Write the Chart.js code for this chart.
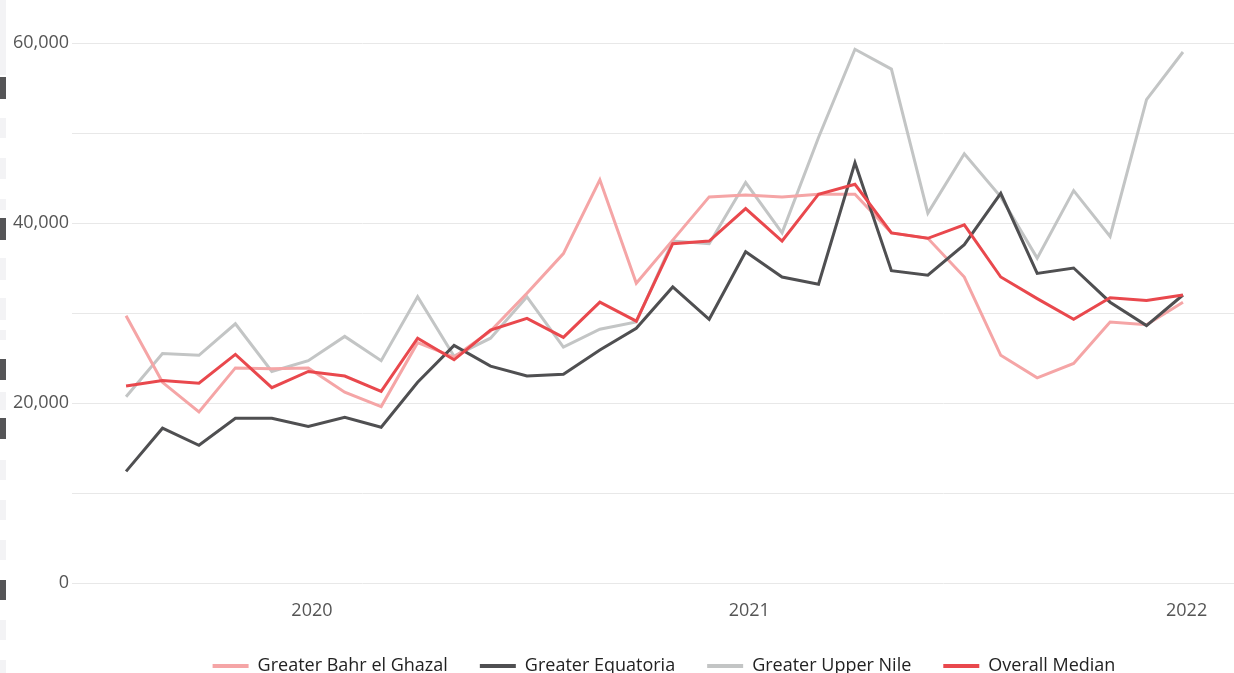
<!DOCTYPE html>
<html>
<head>
<meta charset="utf-8">
<script src="https://cdn.jsdelivr.net/npm/chart.js"></script>
<style>
  html, body { margin: 0; padding: 0; background: #fff; overflow: hidden; }
  #wrap { position: relative; width: 1234px; height: 700px; }
  .strip { position: absolute; left: 0; width: 6px; background: #f3f3f5; }
  .strip.dark { background: #555557; }
</style>
</head>
<body>
<div id="wrap">
  <!-- side strip of the host page -->
  <div class="strip" style="top:0;height:75px"></div>
  <div class="strip dark" style="top:77px;height:22px"></div>
  <div class="strip" style="top:118px;height:20px"></div>
  <div class="strip" style="top:158px;height:21px"></div>
  <div class="strip" style="top:199px;height:11px"></div>
  <div class="strip dark" style="top:218px;height:22px"></div>
  <div class="strip" style="top:258px;height:22px"></div>
  <div class="strip" style="top:298px;height:22px"></div>
  <div class="strip" style="top:330px;height:10px"></div>
  <div class="strip dark" style="top:359px;height:21px"></div>
  <div class="strip" style="top:392px;height:18px"></div>
  <div class="strip dark" style="top:418px;height:21px"></div>
  <div class="strip" style="top:460px;height:20px"></div>
  <div class="strip" style="top:500px;height:20px"></div>
  <div class="strip" style="top:540px;height:20px"></div>
  <div class="strip dark" style="top:580px;height:20px"></div>
  <div class="strip" style="top:620px;height:20px"></div>
  <div class="strip" style="top:660px;height:20px"></div>
  <canvas id="myChart" width="1234" height="685" style="position:absolute;left:0;top:0"></canvas>
</div>
<script>
// months of the series (Aug 2019 - Jan 2022)
var months = ['2019-08','2019-09','2019-10','2019-11','2019-12',
  '2020-01','2020-02','2020-03','2020-04','2020-05','2020-06','2020-07','2020-08','2020-09','2020-10','2020-11','2020-12',
  '2021-01','2021-02','2021-03','2021-04','2021-05','2021-06','2021-07','2021-08','2021-09','2021-10','2021-11','2021-12',
  '2022-01'];
// labels along the x-axis
var yearTicks = ['2020', '2021', '2022'];

// values for each line
var bahrElGhazal = [29700,22300,19000,23900,23800,23900,21200,19600,26700,25100,
  28000,32200,36600,44800,33300,38100,42900,43100,42900,43200,
  43200,38900,38300,34000,25300,22800,24400,29000,28700,31200];
var equatoria = [12400,17200,15300,18300,18300,17400,18400,17300,22300,26400,
  24100,23000,23200,25900,28300,32900,29300,36800,34000,33200,
  46700,34700,34200,37600,43300,34400,35000,31200,28600,32000];
var upperNile = [20700,25500,25300,28800,23500,24700,27400,24700,31800,25200,
  27200,31800,26200,28200,29000,38000,37700,44500,38900,49500,
  59300,57100,41100,47700,42900,36100,43600,38500,53700,59000];
var overallMedian = [21900,22500,22200,25400,21700,23500,23000,21300,27200,24800,
  28100,29400,27300,31200,29100,37700,38000,41600,38000,43200,
  44300,38900,38300,39800,34000,31600,29300,31700,31400,32000];

function monthIndex(m) {
  var p = m.split('-');
  return (parseInt(p[0]) - 2019) * 12 + (parseInt(p[1]) - 8);
}
function toPoints(values) {
  return values.map(function (v, i) { return { x: monthIndex(months[i]), y: v }; });
}

var FONT = "'Open Sans', 'Noto Sans', sans-serif";

// shift the legend a bit to the right, like the original
var legendShift = {
  id: 'legendShift',
  afterLayout: function (chart) {
    chart.legend.left += 42;
    chart.legend.right += 42;
  }
};

var ctx = document.getElementById('myChart');
var myChart = new Chart(ctx, {
  type: 'line',
  data: {
    datasets: [
      { label: 'Greater Bahr el Ghazal', data: toPoints(bahrElGhazal), borderColor: '#f5a5a6', backgroundColor: '#f5a5a6', order: 2 },
      { label: 'Greater Equatoria', data: toPoints(equatoria), borderColor: '#4f4f51', backgroundColor: '#4f4f51', order: 1 },
      { label: 'Greater Upper Nile', data: toPoints(upperNile), borderColor: '#c3c5c5', backgroundColor: '#c3c5c5', order: 3 },
      { label: 'Overall Median', data: toPoints(overallMedian), borderColor: '#e9484d', backgroundColor: '#e9484d', order: 0 }
    ]
  },
  options: {
    responsive: false,
    animation: false,
    layout: { padding: { top: 43, left: 10, right: 0, bottom: 0 } },
    elements: {
      line: { borderWidth: 3, tension: 0, fill: false },
      point: { radius: 0 }
    },
    scales: {
      x: {
        type: 'linear',
        min: -1.48,
        max: 30.4,
        afterBuildTicks: function (axis) {
          axis.ticks = yearTicks.map(function (y) { return { value: monthIndex(y + '-01') + 0.1 }; });
        },
        afterFit: function (axis) { axis.height = 42; },
        ticks: {
          padding: 17,
          color: '#555',
          font: { family: FONT, size: 18 },
          maxRotation: 0,
          callback: function (v) { return String(2019 + Math.floor((v + 7) / 12)); }
        },
        grid: { display: false, drawTicks: false },
        border: { display: false }
      },
      y: {
        min: 0,
        max: 60000,
        ticks: {
          stepSize: 10000,
          padding: 3,
          color: '#555',
          font: { family: FONT, size: 18 },
          callback: function (v) { return v % 20000 === 0 ? v.toLocaleString('en-US') : ''; }
        },
        grid: { color: '#e8e8e8', drawTicks: false },
        border: { display: false }
      }
    },
    plugins: {
      legend: {
        position: 'bottom',
        labels: {
          boxWidth: 36,
          boxHeight: 4,
          padding: 32,
          color: '#222',
          font: { family: FONT, size: 18 },
          sort: function (a, b) { return a.datasetIndex - b.datasetIndex; },
          generateLabels: function (chart) {
            var items = Chart.defaults.plugins.legend.labels.generateLabels(chart);
            items.forEach(function (it) { it.lineWidth = 0; });
            return items;
          }
        }
      },
      tooltip: { enabled: false }
    }
  },
  plugins: [legendShift]
});
</script>
</body>
</html>
